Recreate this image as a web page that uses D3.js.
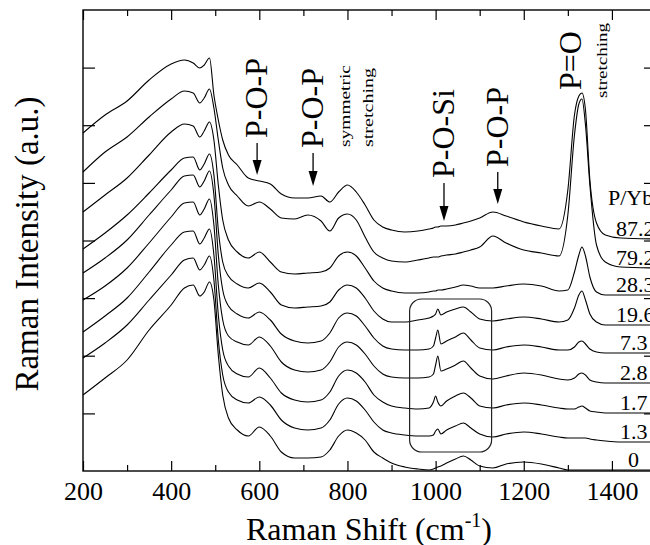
<!DOCTYPE html>
<html>
<head>
<meta charset="utf-8">
<script src="https://cdn.jsdelivr.net/npm/d3@7"></script>
<style>
  body { margin: 0; background: #fff; }
  svg { display: block; font-family: "Liberation Serif", "Times New Roman", Times, serif; }
  text { font-family: "Liberation Serif", "Times New Roman", Times, serif; fill: #000; }
</style>
</head>
<body>
<svg id="chart" width="650" height="545"></svg>
<script>
// Raman shift (cm-1) sample positions shared by all spectra
const wavenumber = [200, 250, 300, 350, 400, 430, 450, 465, 475, 487,
  497, 507, 517, 530, 550, 575, 600, 625, 650, 680,
  710, 740, 760, 780, 800, 820, 840, 860, 880, 900,
  930, 960, 985, 995, 1000, 1005, 1012, 1025, 1045, 1063,
  1080, 1100, 1130, 1160, 1200, 1240, 1280, 1300, 1315, 1325,
  1332, 1340, 1350, 1365, 1385, 1420, 1500];

// P/Yb ratio of each sample, top to bottom
const ratioLabels = ["87.2", "79.2", "28.3", "19.6", "7.3", "2.8", "1.7", "1.3", "0"];

// stacked intensities (a.u., offsets included)
const spec87 = [338, 356, 370, 391, 407, 411, 408, 403, 406, 413,
  376, 351, 331, 316, 306, 293, 290, 287, 277, 273,
  273, 275, 269, 279, 286, 279, 266, 251, 244, 241,
  239, 240, 242, 243, 244, 244, 245, 245, 246, 248,
  250, 253, 259, 255, 249, 245, 242, 281, 356, 375,
  378, 361, 291, 248, 236, 233, 232];
const spec79 = [299, 319, 334, 354, 372, 380, 378, 368, 373, 382,
  363, 331, 303, 286, 275, 265, 269, 262, 253, 252,
  256, 250, 240, 253, 257, 251, 234, 219, 213, 210,
  209, 211, 213, 214, 214, 214, 215, 216, 217, 219,
  221, 224, 235, 228, 221, 218, 215, 256, 336, 367,
  372, 346, 286, 226, 209, 204, 203];
const spec28 = [259, 276, 293, 316, 339, 347, 345, 334, 340, 349,
  331, 286, 251, 231, 219, 213, 219, 209, 199, 197,
  198, 199, 203, 215, 219, 215, 203, 190, 183, 180,
  178, 178, 179, 180, 180, 181, 181, 182, 184, 186,
  185, 183, 183, 185, 187, 185, 180, 181, 199, 216,
  224, 215, 194, 179, 176, 176, 176];
const spec19 = [222, 238, 256, 278, 301, 313, 314, 301, 307, 317,
  296, 241, 209, 195, 187, 183, 188, 179, 166, 163,
  164, 165, 169, 181, 186, 183, 173, 160, 152, 149,
  149, 151, 153, 155, 157, 162, 156, 159, 162, 164,
  159, 152, 150, 152, 154, 152, 149, 151, 163, 176,
  180, 171, 157, 149, 146, 146, 146];
const spec7 = [198, 213, 231, 256, 281, 295, 296, 284, 290, 300,
  276, 216, 181, 165, 157, 153, 159, 151, 137, 130,
  128, 130, 138, 153, 158, 155, 145, 133, 125, 122,
  121, 121, 122, 125, 133, 141, 127, 130, 134, 138,
  131, 123, 121, 124, 126, 124, 121, 121, 124, 129,
  130, 127, 122, 119, 118, 118, 118];
const spec2 = [171, 185, 203, 228, 254, 268, 269, 256, 262, 272,
  246, 186, 151, 135, 129, 126, 134, 125, 109, 101,
  99, 101, 109, 124, 129, 126, 117, 105, 97, 94,
  93, 93, 94, 97, 106, 115, 100, 102, 106, 110,
  103, 95, 92, 95, 98, 96, 92, 91, 93, 97,
  98, 96, 91, 89, 88, 88, 88];
const spec17 = [139, 155, 173, 199, 226, 239, 240, 227, 233, 242,
  216, 156, 121, 105, 97, 94, 103, 93, 78, 71,
  69, 71, 79, 95, 101, 98, 89, 76, 69, 65,
  63, 62, 63, 69, 75, 69, 65, 70, 75, 78,
  73, 65, 63, 66, 68, 66, 63, 62, 62, 64,
  65, 63, 60, 59, 58, 58, 58];
const spec13 = [113, 128, 146, 171, 196, 211, 213, 201, 206, 215,
  191, 131, 96, 79, 71, 68, 74, 66, 51, 43,
  41, 43, 51, 67, 73, 70, 61, 49, 41, 38,
  36, 35, 35, 36, 40, 42, 37, 41, 45, 48,
  43, 37, 34, 37, 39, 37, 34, 33, 33, 33,
  33, 33, 32, 31, 30, 29, 29];
const spec0 = [76, 93, 111, 141, 166, 183, 186, 175, 179, 189,
  171, 116, 76, 53, 41, 35, 44, 35, 19, 13,
  13, 14, 21, 35, 41, 38, 31, 19, 13, 8,
  4, 2, 1, 2, 3, 4, 5, 8, 12, 15,
  11, 5, 3, 7, 9, 7, 3, 1, 1, 1,
  1, 1, 1, 1, 1, 1, 1];

const spectra = [spec87, spec79, spec28, spec19, spec7, spec2, spec17, spec13, spec0];

// axis ticks
const xMajor = [200, 400, 600, 800, 1000, 1200, 1400];
const xMinor = [300, 500, 700, 900, 1100, 1300, 1500];
const yTicks = [57.6, 115.3, 172.9, 230.5, 288.1, 345.8, 403.4];

// band assignments (wavenumber of the arrow)
const bandNames = ["P-O-P", "P-O-P", "P-O-Si", "P-O-P"];
const bandPos = [595, 722, 1019, 1141];

const FONT = '"Liberation Serif", "Times New Roman", Times, serif';

const svg = d3.select("#chart");
const x = d3.scaleLinear().domain([200, 1500]).range([83, 656]);
const y = d3.scaleLinear().domain([0, 461]).range([471, 10]);

// axes: ticks point inward, labels only on the bottom
function styleAxis(g){
  g.select(".domain").remove();
  g.selectAll(".tick line").attr("stroke", "#000").attr("stroke-width", 1.2);
  g.attr("font-family", FONT).attr("font-size", null);
}
svg.append("g").attr("transform", "translate(0,471)")
  .call(d3.axisBottom(x).tickValues(xMajor).tickSize(-10).tickPadding(11).tickFormat(d3.format("d")))
  .call(styleAxis)
  .selectAll("text").style("font-size", "26px").style("font-family", FONT);
svg.append("g").attr("transform", "translate(0,471)")
  .call(d3.axisBottom(x).tickValues(xMinor).tickSize(-6).tickFormat(() => ""))
  .call(styleAxis);
svg.append("g").attr("transform", "translate(0,10)")
  .call(d3.axisTop(x).tickValues(xMajor).tickSize(-10).tickFormat(() => ""))
  .call(styleAxis);
svg.append("g").attr("transform", "translate(0,10)")
  .call(d3.axisTop(x).tickValues(xMinor).tickSize(-6).tickFormat(() => ""))
  .call(styleAxis);
svg.append("g").attr("transform", "translate(83,0)")
  .call(d3.axisLeft(y).tickValues(yTicks).tickSize(-12).tickFormat(() => ""))
  .call(styleAxis);
svg.append("g").attr("transform", "translate(656,0)")
  .call(d3.axisRight(y).tickValues(yTicks).tickSize(-12).tickFormat(() => ""))
  .call(styleAxis);

// frame
svg.append("rect")
  .attr("x", x(200)).attr("y", y(461))
  .attr("width", x(1500) - x(200)).attr("height", y(0) - y(461))
  .attr("fill", "none").attr("stroke", "#000").attr("stroke-width", 1.4);

// spectra
const line = d3.line()
  .x((d, i) => x(wavenumber[i]))
  .y(d => y(d))
  .curve(d3.curveMonotoneX);

svg.append("g").selectAll("path")
  .data(spectra).enter().append("path")
  .attr("d", line)
  .attr("fill", "none").attr("stroke", "#000").attr("stroke-width", 1.1);

// rounded box around the 950-1120 region
svg.append("rect")
  .attr("x", x(941)).attr("y", 299)
  .attr("width", x(1127) - x(941)).attr("height", 153)
  .attr("rx", 12).attr("ry", 12)
  .attr("fill", "none").attr("stroke", "#222").attr("stroke-width", 1.2);

// rotated text helper: baseline at bx, reading upward from by
function vText(bx, by, str, size, len){
  const t = svg.append("text")
    .attr("transform", `translate(${bx},${by}) rotate(-90)`)
    .style("font-family", FONT)
    .style("font-size", size + "px")
    .text(str);
  if (len) t.attr("textLength", len).attr("lengthAdjust", "spacingAndGlyphs");
  return t;
}
function arrow(cx, y1, y2){
  svg.append("line").attr("x1", cx).attr("x2", cx).attr("y1", y1).attr("y2", y2 - 12)
    .attr("stroke", "#000").attr("stroke-width", 1.3);
  svg.append("path")
    .attr("d", `M${cx - 4.5},${y2 - 15}L${cx + 4.5},${y2 - 15}L${cx},${y2}Z`)
    .attr("fill", "#000");
}

// band labels with arrows
const textBottom = [138, 148, 178, 167];
const arrowEnd = [175, 186, 221, 204];
bandNames.forEach((name, i) => {
  const cx = x(bandPos[i]);
  vText(cx + 10, textBottom[i], name, 32);
  arrow(cx, textBottom[i] + 5, arrowEnd[i]);
});
vText(350, 147, "symmetric", 15, 82);
vText(373, 147, "stretching", 15, 79);
vText(581, 90, "P=O", 32);
vText(607, 98, "stretching", 15, 75);

// sample labels at the right edge
svg.append("text").attr("x", 608).attr("y", 205)
  .style("font-family", FONT).style("font-size", "22px").text("P/Yb");
ratioLabels.forEach((t, i) => {
  const last = spectra[i][spectra[i].length - 1];
  const lx = t.length === 4 ? 616 : (t.length === 3 ? 620 : 628);
  svg.append("text").attr("x", lx).attr("y", y(last) - 3)
    .style("font-family", FONT).style("font-size", "22px").text(t);
});

// axis titles
const xt = svg.append("text").attr("x", 369).attr("y", 540)
  .attr("text-anchor", "middle").style("font-family", FONT).style("font-size", "32px");
xt.append("tspan").text("Raman Shift (cm");
xt.append("tspan").attr("dy", -13).style("font-size", "20px").text("-1");
xt.append("tspan").attr("dy", 13).text(")");

svg.append("text")
  .attr("transform", "translate(38,244) rotate(-90)")
  .attr("text-anchor", "middle").style("font-family", FONT).style("font-size", "33px")
  .text("Raman Intensity (a.u.)");
</script>
</body>
</html>
